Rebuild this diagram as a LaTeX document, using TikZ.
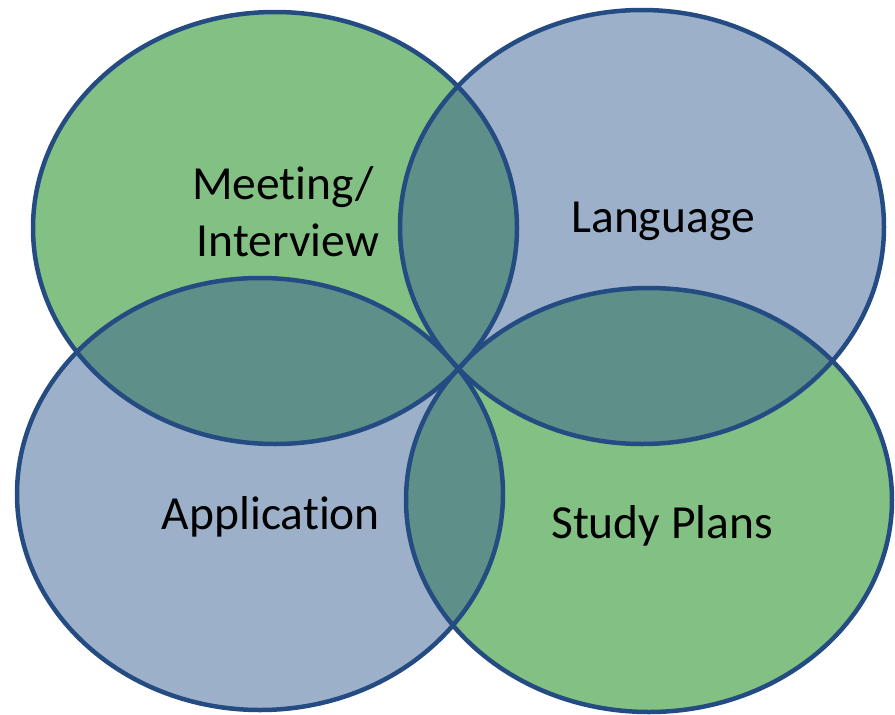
\documentclass[tikz,border=0pt]{standalone}
\usepackage{fontspec}
\setmainfont[Ligatures={NoCommon}]{Carlito}
\definecolor{vgreen}{RGB}{130,192,131}
\definecolor{vblue}{RGB}{156,176,202}
\definecolor{vteal}{RGB}{94,143,136}
\definecolor{vline}{RGB}{37,76,130}
\begin{document}
\begin{tikzpicture}[x=1pt,y=-1pt,
  outline/.style={draw=vline,line width=4.5pt},
  lbl/.style={font=\fontsize{47.5}{57}\selectfont,align=center,text=black,inner sep=0pt}]
\useasboundingbox (0,0) rectangle (895,715);
\def\ellA{(275,228) ellipse [x radius=242,y radius=216]}
\def\ellB{(642,227) ellipse [x radius=242,y radius=217]}
\def\ellC{(260,494) ellipse [x radius=243,y radius=216]}
\def\ellD{(649,500) ellipse [x radius=243,y radius=212]}
% base fills
\fill[vgreen] \ellA;
\fill[vblue] \ellB;
\fill[vblue] \ellC;
\fill[vgreen] \ellD;
% overlaps
\begin{scope}\clip \ellA; \fill[vteal] \ellB; \end{scope}
\begin{scope}\clip \ellA; \fill[vteal] \ellC; \end{scope}
\begin{scope}\clip \ellB; \fill[vteal] \ellD; \end{scope}
\begin{scope}\clip \ellC; \fill[vteal] \ellD; \end{scope}
% outlines
\draw[outline] \ellA;
\draw[outline] \ellB;
\draw[outline] \ellC;
\draw[outline] \ellD;
% labels
\node[lbl,anchor=base] (meet) at (283,199) {Meeting/};
\node[lbl,anchor=base] (interv) at (288,256) {Interview};
\node[lbl,anchor=base] (lang) at (663,232) {Language};
\node[lbl,anchor=base] (appl) at (271,529) {Application};
\node[lbl,anchor=base] (study) at (662,538) {Study Plans};
\end{tikzpicture}
\end{document}
